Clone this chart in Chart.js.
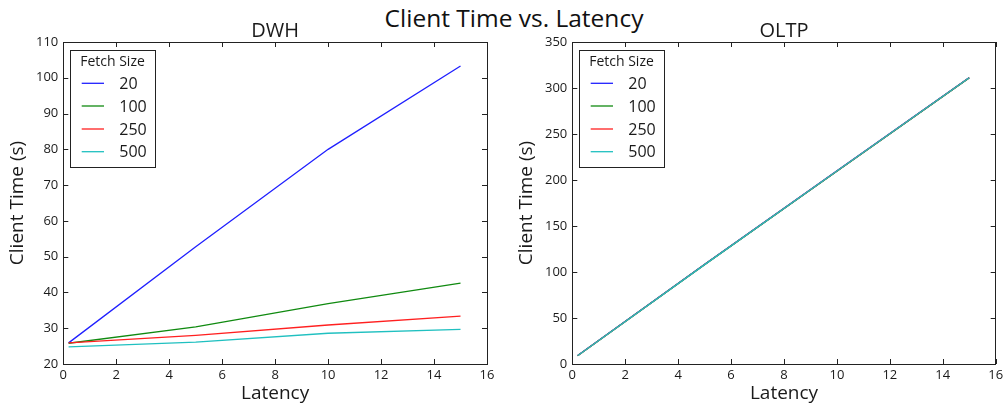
<!DOCTYPE html>
<html>
<head>
<meta charset="utf-8">
<script src="https://cdn.jsdelivr.net/npm/chart.js@4.4.1/dist/chart.umd.min.js"></script>
<style>
  html, body { margin: 0; padding: 0; background: #fff; }
  #fig { position: relative; width: 1007px; height: 407px; overflow: hidden; font-family: "Open Sans", sans-serif; }
  #sup { position: absolute; left: 314px; width: 400px; top: 6px; text-align: center;
         font-size: 24.5px; line-height: 24px; color: #111; white-space: nowrap; }
  canvas { position: absolute; top: 0; }
  #dwh { left: 0; }
  #oltp { left: 500px; }
</style>
</head>
<body>
<div id="fig">
  <div id="sup">Client Time vs. Latency</div>
  <canvas id="dwh" width="500" height="407"></canvas>
  <canvas id="oltp" width="507" height="407"></canvas>
</div>
<script>
// Latency values (x) and fetch sizes (series)
const latency = [0.2, 5, 10, 15];
const fetchSizes = ['20', '100', '250', '500'];

// DWH workload: client time in seconds
const dwh20  = [25.9, 52.8, 80.0, 103.3];
const dwh100 = [25.8, 30.4, 36.9, 42.6];
const dwh250 = [25.9, 28.0, 30.9, 33.4];
const dwh500 = [24.8, 26.1, 28.6, 29.7];

// OLTP workload: client time in seconds
const oltp20  = [9.2, 108.3, 209.9, 311.3];
const oltp100 = [9.0, 108.0, 209.6, 311.0];
const oltp250 = [9.0, 108.2, 209.8, 311.2];
const oltp500 = [9.0, 108.0, 209.7, 311.1];

// Axis ticks
const xTicks = [0, 2, 4, 6, 8, 10, 12, 14, 16];
const dwhYTicks = [20, 30, 40, 50, 60, 70, 80, 90, 100, 110];
const oltpYTicks = [0, 50, 100, 150, 200, 250, 300, 350];

const seriesColors = ['#2020ff', '#108a10', '#ff2020', '#20c0c0'];
const FONT = '"Open Sans", sans-serif';
const INK = '#1a1a1a';

function toPoints(ys) {
  return latency.map((x, i) => ({ x: x, y: ys[i] }));
}

// Draws the frame, inward ticks on all four sides, titles and the inset legend
const framePlugin = {
  id: 'frame',
  afterDraw(chart, args, opts) {
    const ctx = chart.ctx;
    const a = chart.chartArea;
    const xs = chart.scales.x, ys = chart.scales.y;
    const tl = 5;
    ctx.save();
    ctx.strokeStyle = '#222';
    ctx.lineWidth = 1;
    ctx.strokeRect(Math.round(a.left) + 0.5, Math.round(a.top) + 0.5,
                   Math.round(a.right - a.left), Math.round(a.bottom - a.top));
    ctx.beginPath();
    xs.ticks.forEach(t => {
      const px = Math.round(xs.getPixelForValue(t.value)) + 0.5;
      ctx.moveTo(px, a.bottom); ctx.lineTo(px, a.bottom - tl);
      ctx.moveTo(px, a.top); ctx.lineTo(px, a.top + tl);
    });
    ys.ticks.forEach(t => {
      const py = Math.round(ys.getPixelForValue(t.value)) + 0.5;
      ctx.moveTo(a.left, py); ctx.lineTo(a.left + tl, py);
      ctx.moveTo(a.right, py); ctx.lineTo(a.right - tl, py);
    });
    ctx.stroke();

    // subplot title
    const cx = (a.left + a.right) / 2;
    ctx.fillStyle = INK;
    ctx.textAlign = 'center';
    ctx.textBaseline = 'alphabetic';
    ctx.font = '20px ' + FONT;
    ctx.fillText(opts.title, cx, a.top - 5.5);

    // axis labels
    ctx.font = '19px ' + FONT;
    ctx.fillText('Latency', cx, 399);
    ctx.save();
    ctx.translate(a.left - 40.5, (a.top + a.bottom) / 2);
    ctx.rotate(-Math.PI / 2);
    ctx.fillText('Client Time (s)', 0, 0);
    ctx.restore();

    // legend
    const lx = a.left + 6.7, ly = a.top + 8, lw = 85, lh = 117;
    ctx.fillStyle = '#fff';
    ctx.fillRect(lx, ly, lw, lh);
    ctx.strokeStyle = '#222';
    ctx.strokeRect(Math.round(lx) + 0.5, Math.round(ly) + 0.5, lw, lh);
    ctx.fillStyle = INK;
    ctx.font = '14px ' + FONT;
    ctx.textAlign = 'center';
    ctx.fillText('Fetch Size', lx + lw / 2, a.top + 24);
    const rows = [41.3, 64, 87, 109.7];
    ctx.font = '16px ' + FONT;
    ctx.textAlign = 'left';
    ctx.textBaseline = 'middle';
    chart.data.datasets.forEach((ds, i) => {
      const ry = a.top + rows[i];
      ctx.strokeStyle = ds.borderColor;
      ctx.lineWidth = 1.3;
      ctx.beginPath();
      ctx.moveTo(a.left + 18.4, ry); ctx.lineTo(a.left + 40.7, ry);
      ctx.stroke();
      ctx.fillStyle = INK;
      ctx.fillText(ds.label, a.left + 56, ry + 1);
    });
    ctx.restore();
  }
};

function makeChart(id, title, seriesList, yMin, yMax, yStep, yAxisWidth, padRight) {
  return new Chart(document.getElementById(id), {
    type: 'line',
    data: {
      datasets: seriesList.map((ys, i) => ({
        label: fetchSizes[i],
        data: toPoints(ys),
        borderColor: seriesColors[i],
        borderWidth: 1.3,
        pointRadius: 0,
        tension: 0,
        fill: false,
        order: seriesList.length - i   // later series are drawn on top
      }))
    },
    options: {
      responsive: false,
      animation: false,
      events: [],
      layout: { padding: { top: 42, right: padRight, bottom: 0, left: 0 } },
      plugins: { legend: { display: false }, tooltip: { enabled: false }, title: { display: false },
                 frame: { title: title } },
      scales: {
        x: {
          type: 'linear', min: xTicks[0], max: xTicks[xTicks.length - 1],
          afterBuildTicks: s => { s.ticks = xTicks.map(v => ({ value: v })); },
          afterFit: s => { s.height = 43; },
          grid: { display: false, drawTicks: false },
          border: { display: false },
          ticks: { padding: 3, color: INK, font: { family: FONT, size: 13 }, maxRotation: 0 }
        },
        y: {
          type: 'linear', min: yMin, max: yMax,
          ticks: { stepSize: yStep, padding: 5, color: INK, font: { family: FONT, size: 13 } },
          afterFit: s => { s.width = yAxisWidth; },
          grid: { display: false, drawTicks: false },
          border: { display: false }
        }
      }
    },
    plugins: [framePlugin]
  });
}

makeChart('dwh', 'DWH', [dwh20, dwh100, dwh250, dwh500],
          dwhYTicks[0], dwhYTicks[dwhYTicks.length - 1], 10, 63.3, 13);
makeChart('oltp', 'OLTP', [oltp20, oltp100, oltp250, oltp500],
          oltpYTicks[0], oltpYTicks[oltpYTicks.length - 1], 50, 72.3, 11.3);
</script>
</body>
</html>
